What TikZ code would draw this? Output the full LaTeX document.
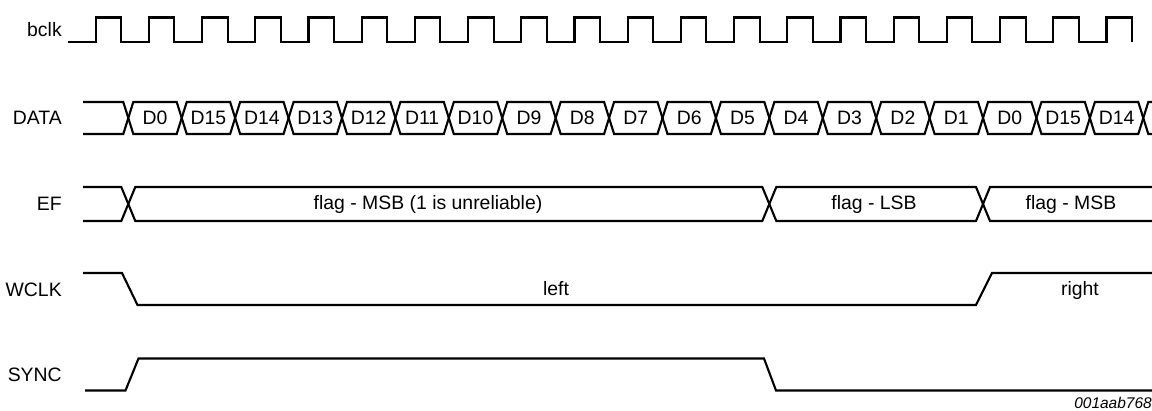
\documentclass[tikz,border=0pt]{standalone}
\usepackage{fontspec}
\setmainfont{Liberation Sans}
\usepackage{tikz}

\begin{document}
\begin{tikzpicture}[
        x=0.025cm, y=-0.025cm,
        wave/.style={line width=1.5pt},
        sig/.style={anchor=east,inner sep=0pt,font=\fontsize{13.8}{16}\selectfont},
        txt/.style={inner sep=0pt,font=\fontsize{13.8}{16}\selectfont}
    ]
    \clip (0,0) rectangle (1152,410);
    \def\tz{128.3}
    \def\cw{53.42}
    \node[sig] (bclk) at (62,30) {bclk};
    \draw[wave] (68,42) \foreach \k in {0,...,19} {-- ({95.7+\k*53.2},42) |- ++(25.5,-24.5) -- ++(0,24.5)};
    \node[sig] (data) at (62,118) {DATA};
    \draw[wave] (83,102) -- ({\tz-5},102) -- (\tz,118) -- ({\tz-5},134) -- (83,134);
    \foreach \lbl [count=\k from 0] in {D0,D15,D14,D13,D12,D11,D10,D9,D8,D7,D6,D5,D4,D3,D2,D1,D0,D15,D14} {
        \draw[wave] ({\tz+\k*\cw},118) -- ++(5,-16) -- ++({\cw-10},0) -- ++(5,16) -- ++(-5,16) -- ++({10-\cw},0) -- cycle;
        \node[txt] (d\k) at ({\tz+(\k+0.5)*\cw},118) {\lbl};
    }
    \draw[wave] ({\tz+19*\cw},118) -- ++(5,-16) -- ++(20,0) ({\tz+19*\cw},118) -- ++(5,16) -- ++(20,0);
    \node[sig] (ef) at (62,204) {EF};
    \draw[wave] (83,187) -- (121.3,187) -- (135.3,221) -- (762.3,221) -- (776.3,187) -- (976,187) -- (990,221) -- (1160,221);
    \draw[wave] (83,221) -- (121.3,221) -- (135.3,187) -- (762.3,187) -- (776.3,221) -- (976,221) -- (990,187) -- (1160,187);
    \node[txt] (f1) at (428,204) {flag - MSB (1 is unreliable)};
    \node[txt] (f2) at (874,204) {flag - LSB};
    \node[txt] (f3) at (1071,204) {flag - MSB};
    \node[sig] (wclk) at (62,290) {WCLK};
    \draw[wave] (83,273) -- (122,273) -- (137.5,305) -- (976,305) -- (992,273) -- (1160,273);
    \node[txt] (wl) at (556,289) {left};
    \node[txt] (wr) at (1080,290) {right};
    \node[sig] (sync) at (62,375) {SYNC};
    \draw[wave] (85,390.5) -- (125.5,390.5) -- (138.5,358.5) -- (764,358.5) -- (776,390.5) -- (1160,390.5);
    \node[anchor=east,inner sep=0pt,font=\fontsize{11}{13}\selectfont\itshape] (fig) at (1152,403) {001aab768};
\end{tikzpicture}
\end{document}
